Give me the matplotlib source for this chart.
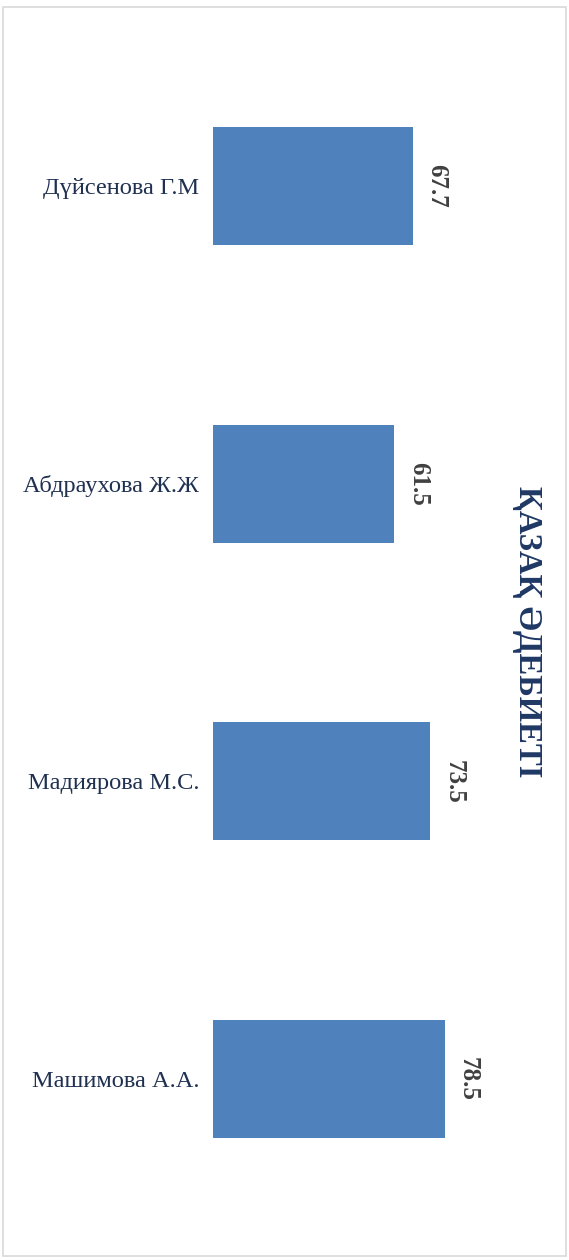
import matplotlib.pyplot as plt
from matplotlib.patches import Rectangle

# --- DATA ---
teachers = ["Дүйсенова Г.М", "Абдраухова Ж.Ж", "Мадиярова М.С.", "Машимова А.А."]
scores = [67.7, 61.5, 73.5, 78.5]
title = "ҚАЗАҚ ӘДЕБИЕТІ"

W, H = 569, 1260
fig = plt.figure(figsize=(W / 100, H / 100), dpi=100)
plt.rcParams["font.family"] = ["Liberation Serif", "DejaVu Serif"]

# light frame around the whole chart
fig.patches.append(Rectangle((3 / W, 4 / H), 563 / W, 1249 / H, transform=fig.transFigure,
                             fill=False, edgecolor="#d9d9d9", linewidth=1.2))

# plot area in pixels: left 213, right 508, top 37, bottom 1228
ax = fig.add_axes([213 / W, (H - 1228) / H, 295 / W, 1191 / H])
pos = list(range(len(teachers)))
ax.barh(pos, scores, height=0.397, color="#4f81bd")
ax.set_xlim(0, 100)
ax.set_ylim(len(teachers) - 0.5, -0.5)
ax.set_yticks(pos)
ax.set_yticklabels(teachers, fontsize=17.6, color="#1f3050")
ax.tick_params(axis="y", length=0, pad=10)
ax.set_xticks([])
for s in ax.spines.values():
    s.set_visible(False)

for p, v in zip(pos, scores):
    ax.annotate(f"{v}", (v, p), xytext=(24, 0), textcoords="offset pixels",
                rotation=-90, ha="center", va="center", fontsize=18,
                fontweight="bold", color="#404040")

fig.text(528 / W, 1 - 632 / H, title, rotation=-90, ha="center", va="center",
         fontsize=23.6, fontweight="bold", color="#1f3864")

fig.savefig("out.png", dpi=100)
